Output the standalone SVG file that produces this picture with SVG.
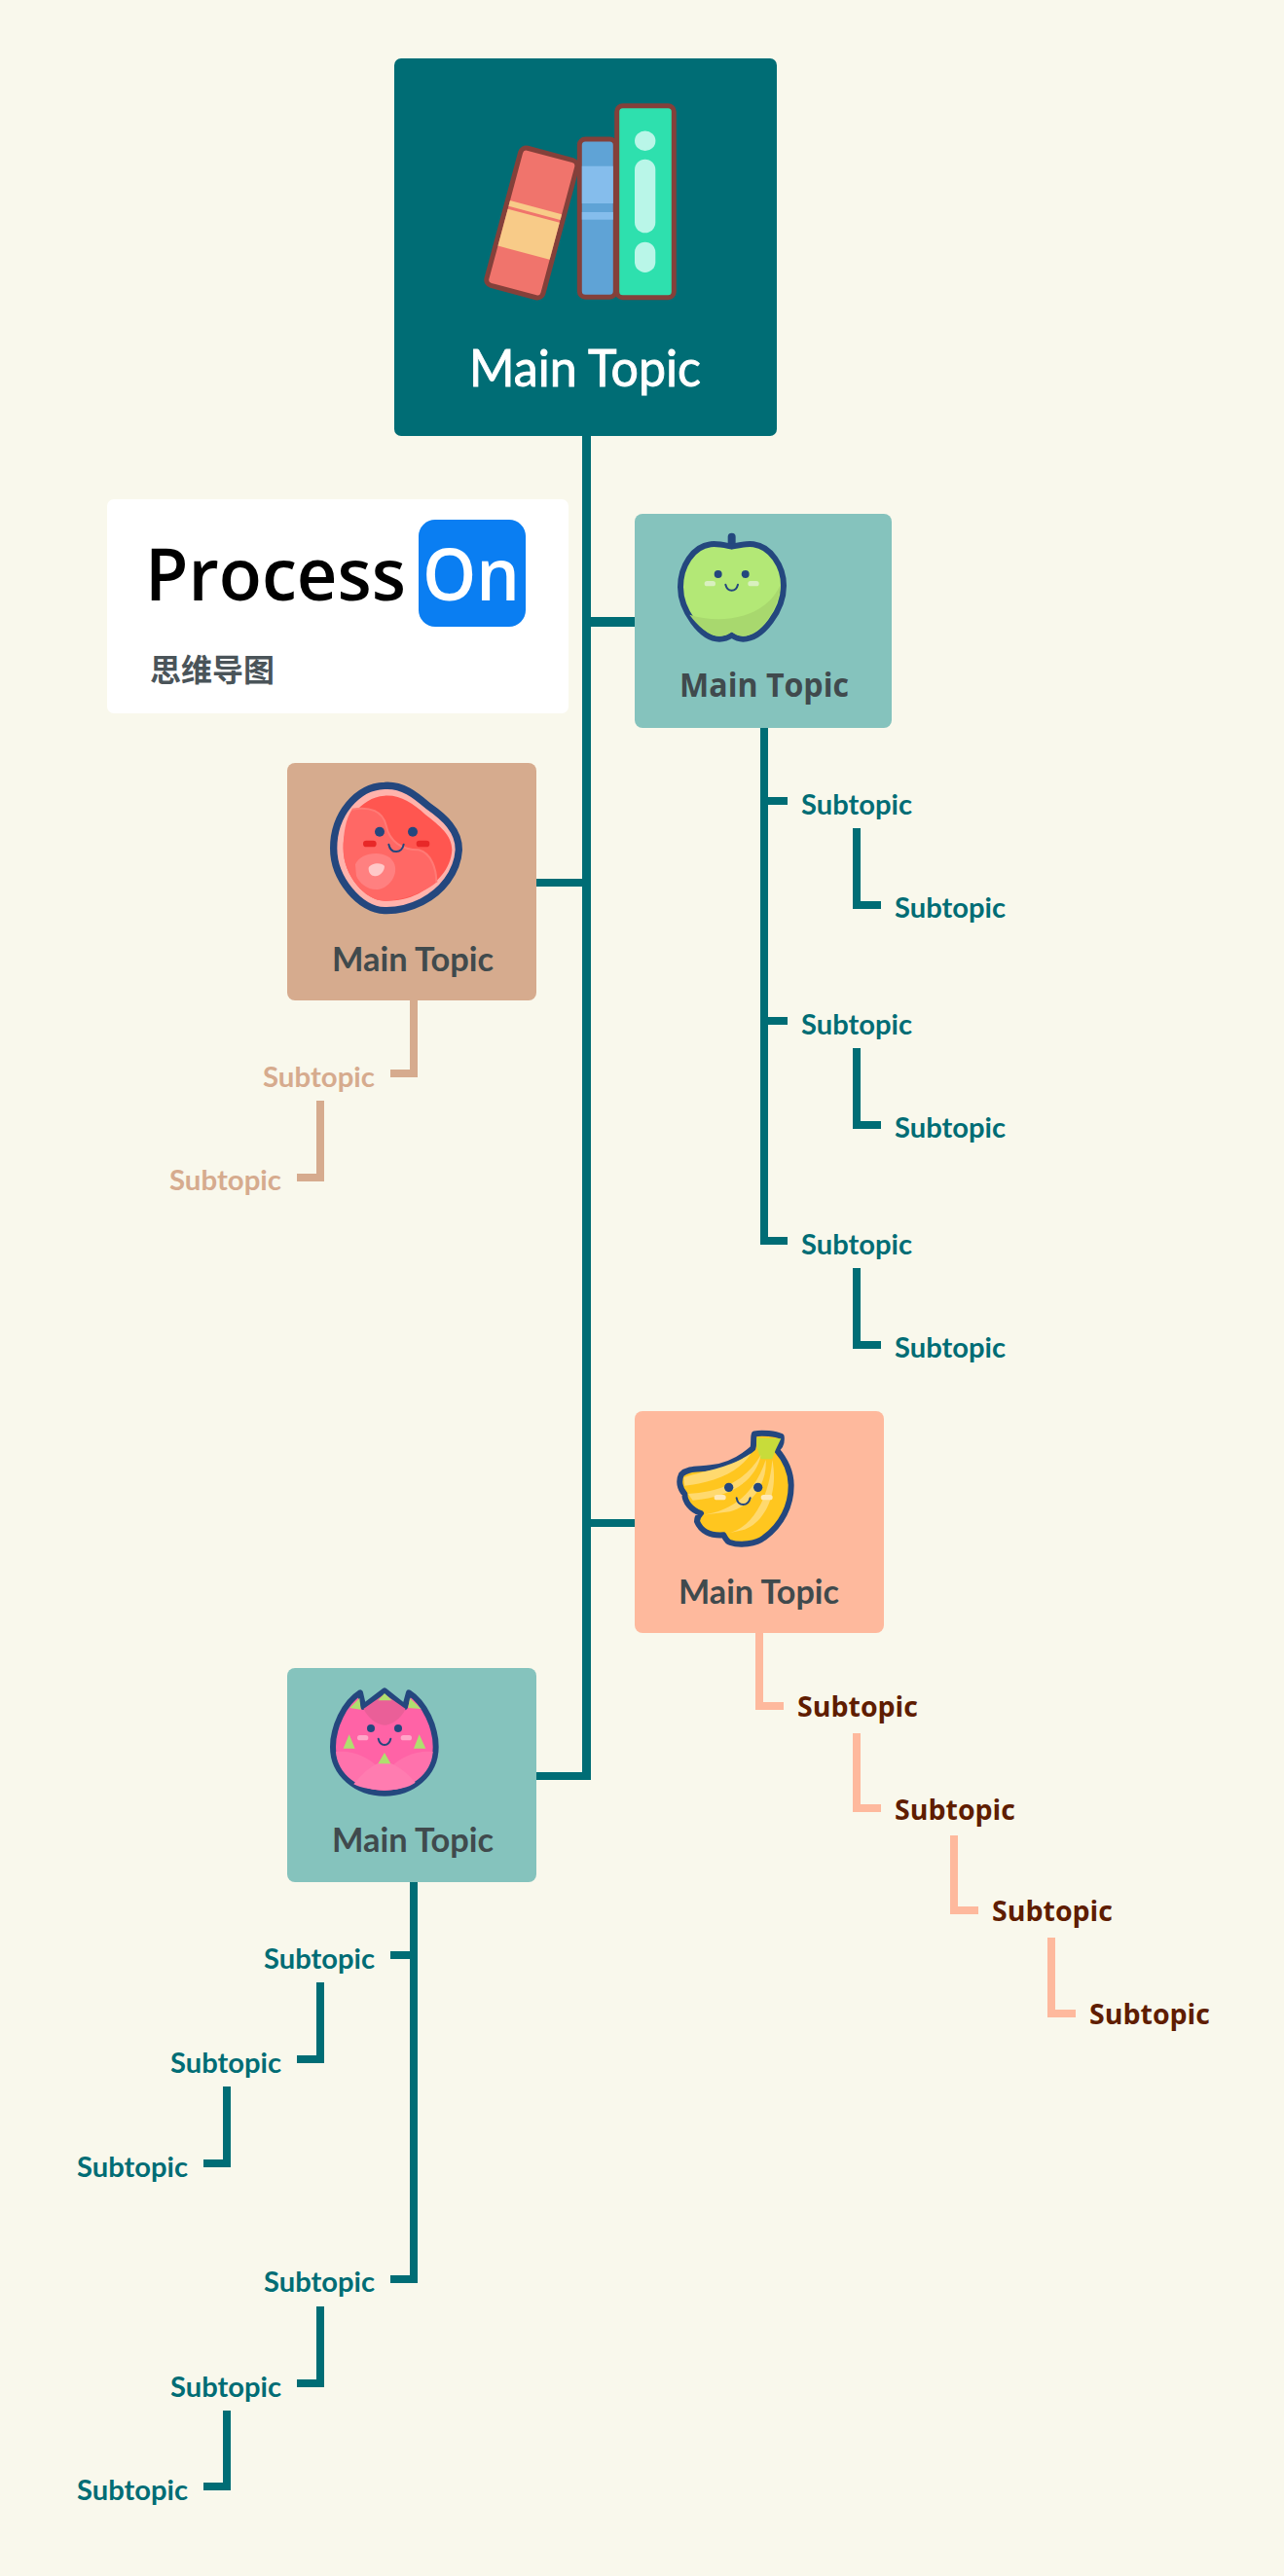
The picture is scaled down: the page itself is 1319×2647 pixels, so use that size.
<svg xmlns="http://www.w3.org/2000/svg" width="1319" height="2647" viewBox="0 0 1319 2647">
<style>
.c{fill:none;stroke-linejoin:miter}
.t{stroke:#006d75;stroke-width:8}
.n{stroke:#d6ab8e;stroke-width:8}
.p{stroke:#feb99d;stroke-width:8}
.cm{font-family:"Lato","Liberation Sans",sans-serif;font-weight:700}
.se{font-family:"Open Sans","Noto Sans",sans-serif;font-weight:700}
.lg{font-family:"Open Sans","Noto Sans",sans-serif;font-weight:600;font-size:74px}
.mt{font-size:34px;fill:#404a4d}
.st{font-size:29px;fill:#006d75}
.sn{font-size:29px;fill:#d6ab8e}
.sb{font-size:28px;fill:#5f1d00}
.nv{fill:#24477e}
.sm{fill:none;stroke:#24477e;stroke-width:6;stroke-linecap:round}
.ol{stroke:#24477e;stroke-linejoin:round}
.bk{stroke:#84403a;stroke-width:5}
</style>
<rect width="1319" height="2647" fill="#f9f8ec"/>
<g id="connectors">
<path class="c t" style="stroke-width:9" d="M602.5 448V1829"/>
<path class="c t" style="stroke-width:10" d="M607 639H652"/>
<path class="c t" d="M598 907H551"/>
<path class="c t" d="M652 1565H607"/>
<path class="c t" d="M598 1825H551"/>
<path class="c t" d="M785 748V1275H809"/>
<path class="c t" d="M789 823H809"/>
<path class="c t" d="M789 1049H809"/>
<path class="c t" d="M880 851V930H905"/>
<path class="c t" d="M880 1077V1156H905"/>
<path class="c t" d="M880 1303V1382H905"/>
<path class="c n" d="M425 1028V1103H401"/>
<path class="c n" d="M329 1131V1210H305"/>
<path class="c p" d="M780 1678V1753H805"/>
<path class="c p" d="M880 1781V1858H905"/>
<path class="c p" d="M980 1886V1963H1005"/>
<path class="c p" d="M1080 1991V2069H1105"/>
<path class="c t" d="M425 1932V2342H401"/>
<path class="c t" d="M421 2009H401"/>
<path class="c t" d="M329 2037V2116H305"/>
<path class="c t" d="M233 2144V2223H209"/>
<path class="c t" d="M329 2370V2449H305"/>
<path class="c t" d="M233 2477V2555H209"/>
</g>
<g id="root">
<rect x="405" y="60" width="393" height="388" rx="7" fill="#006d75"/>
<g transform="translate(546.3 229) rotate(15)">
<rect x="-30" y="-73" width="60" height="146" rx="6" fill="#f0746c" class="bk"/>
<rect x="-27.500" y="-7.500" width="55" height="39.300" fill="#f8cb88"/>
<rect x="-27.500" y="-16.400" width="55" height="5.900" fill="#f8cb88"/>
</g>
<rect x="595.300" y="143" width="37" height="162.300" rx="6" fill="#5fa3d6" class="bk"/>
<rect x="597.800" y="170.700" width="32" height="38.300" fill="#85bdec"/>
<rect x="597.800" y="218" width="32" height="7.700" fill="#85bdec"/>
<rect x="633.700" y="108.700" width="58.600" height="197" rx="6" fill="#2ee0ae" class="bk"/>
<ellipse cx="662.700" cy="144.700" rx="10.700" ry="10.300" fill="#b9f6e8"/>
<rect x="652" y="163.700" width="21.300" height="75.600" rx="10.700" fill="#b9f6e8"/>
<rect x="652" y="248.700" width="21.300" height="31.300" rx="10.700" fill="#b9f6e8"/>
<text x="482" y="397" font-family="Lato,'Liberation Sans',sans-serif" font-weight="400" font-size="52" fill="#fff" stroke="#fff" stroke-width=".9" textLength="238" lengthAdjust="spacingAndGlyphs">Main Topic</text>
</g>
<g id="logo">
<rect x="110" y="513" width="474" height="220" rx="7" fill="#fff"/>
<rect x="430" y="534" width="110" height="110" rx="17" fill="#0a7ef2"/>
<text class="lg" x="149" y="617" fill="#000" textLength="268" lengthAdjust="spacingAndGlyphs">Process</text>
<text class="lg" x="434" y="617" fill="#fff" textLength="100" lengthAdjust="spacingAndGlyphs">On</text>
<text x="154" y="700" font-size="32" font-weight="700" fill="#4a5459" font-family="'Noto Sans CJK SC',sans-serif">思维导图</text>
</g>
<g id="apple">
<rect x="652" y="528" width="264" height="220" rx="8" fill="#85c3bd"/>
<g transform="translate(640 510) scale(.33333)">
<path d="M335 125V160" stroke="#24477e" stroke-width="24" stroke-linecap="round"/>
<path class="ol" stroke-width="18" fill="#b3e876" d="M335 155C360 150 380 145 402 148C455 155 495 215 495 275C495 350 430 440 370 440C355 440 345 435 335 428C325 435 315 440 297 440C240 440 177 350 177 280C177 215 215 155 270 148C290 145 310 150 335 155Z"/>
<path fill="#a8d86e" d="M205 365C300 395 440 380 486 270C484 340 425 431 370 431C355 431 345 426 335 418C325 426 315 431 297 431C265 431 230 400 205 365Z"/>
<circle class="nv" cx="293" cy="240" r="12"/><circle class="nv" cx="377" cy="240" r="12"/>
<rect x="251" y="261" width="34" height="16" rx="8" fill="#d9f0bf"/><rect x="385" y="261" width="34" height="16" rx="8" fill="#d9f0bf"/>
<path class="sm" d="M316 272C322 296 348 296 354 272"/>
</g>
<text class="se mt" x="698" y="716" textLength="174" lengthAdjust="spacingAndGlyphs">Main Topic</text>
</g>
<g id="meat">
<rect x="295" y="784" width="256" height="244" rx="8" fill="#d6ab8e"/>
<g transform="translate(280 770) scale(.33333)">
<path class="ol" stroke-width="22" fill="#ffb3ac" d="M345 112C400 108 440 140 480 175C530 210 575 250 574 310C570 380 520 440 460 470C420 490 380 498 345 497C270 495 188 400 188 305C188 200 260 115 345 112Z"/>
<path fill="#ff5650" d="M345 143C395 140 430 165 470 200C515 235 553 265 553 310C550 370 505 415 450 445C415 462 380 468 345 467C285 465 218 390 218 305C218 225 270 148 345 143Z"/>
<path fill="#ff6865" d="M245 185C300 175 340 190 350 235C360 285 400 310 450 310C490 320 505 370 505 410C480 430 420 465 345 467C285 465 218 390 218 305C218 260 225 215 245 185Z"/>
<path fill="none" stroke="#ff7a75" stroke-width="6" d="M245 185C300 175 340 190 350 235C360 285 400 310 450 310C490 320 505 370 505 410"/>
<path fill="#ff8080" d="M255 355C265 325 320 310 355 330C390 350 385 400 345 425C310 445 270 420 258 390Z"/>
<path fill="#ffc8c8" d="M296 365C300 352 335 345 345 360C345 380 325 395 312 390C300 388 295 375 296 365Z"/>
<circle class="nv" cx="330" cy="254" r="15"/><circle class="nv" cx="432" cy="254" r="15"/>
<rect x="279" y="281" width="41" height="20" rx="10" fill="#e82828"/><rect x="443" y="281" width="41" height="20" rx="10" fill="#e82828"/>
<path class="sm" d="M358 293C365 325 400 320 404 293"/>
</g>
<text class="cm mt" x="341" y="998" textLength="166" lengthAdjust="spacingAndGlyphs">Main Topic</text>
</g>
<g id="banana">
<rect x="652" y="1450" width="256" height="228" rx="8" fill="#feb99d"/>
<g transform="translate(640 1440) scale(.33333)">
<path class="ol" stroke-width="18" fill="#ffc61f" d="M405 100C430 95 470 100 488 108C490 125 485 140 472 148C500 180 518 220 518 260C518 320 490 380 435 420C410 440 360 445 330 435C320 432 315 420 310 412C270 415 240 400 228 370C228 355 235 350 240 345C210 335 190 310 190 285C175 270 170 245 180 225C200 205 230 210 270 205C320 200 360 180 400 145C405 130 400 110 405 100Z"/>
<path fill="#c8dc3a" d="M412 112L487 115L470 150L460 178L425 178L412 140Z"/>
<path fill="#ffd96e" d="M187 235C240 215 320 210 395 160C360 215 290 250 190 260Z"/>
<path fill="#ffd96e" d="M200 285C280 280 370 260 425 165C410 240 340 295 215 305Z"/>
<path fill="#ffd96e" d="M245 350C320 340 400 300 440 180C445 250 400 320 330 340Z"/>
<path fill="#ffd96e" d="M330 405C390 390 450 310 460 180C480 280 440 370 375 395Z"/>
<circle class="nv" cx="326" cy="265" r="14"/><circle class="nv" cx="416" cy="265" r="14"/>
<rect x="281" y="288" width="36" height="16" rx="8" fill="#ffe9b8"/><rect x="425" y="288" width="36" height="16" rx="8" fill="#ffe9b8"/>
<path class="sm" d="M350 298C355 325 385 325 392 298"/>
</g>
<text class="cm mt" x="697" y="1648" textLength="165" lengthAdjust="spacingAndGlyphs">Main Topic</text>
</g>
<g id="dragonfruit">
<rect x="295" y="1714" width="256" height="220" rx="8" fill="#85c3bd"/>
<g transform="translate(280 1700) scale(.33333)">
<path class="ol" stroke-width="18" fill="#ff63a6" d="M345 112L408 162L420 118C470 150 503 225 503 285C503 370 430 428 345 428C260 428 186 370 186 285C186 225 220 150 270 118L280 162Z"/>
<path fill="#ea5f98" d="M280 168L345 122L410 168C395 200 365 218 345 218C320 218 295 195 280 168Z"/>
<path fill="#ff72ac" d="M195 300C240 295 300 310 345 370C390 310 450 295 494 300C490 370 425 419 345 419C265 419 200 370 195 300Z"/>
<path fill="#ff7cb0" d="M250 400C290 350 320 335 345 330C375 335 410 360 440 395C400 425 300 425 250 400Z"/>
<path fill="#afe06e" d="M345 120L325 142L368 142ZM268 135L238 165L272 170ZM423 135L418 165L458 168ZM236 247L218 290L254 290ZM452 247L435 290L472 290ZM345 303L325 337L364 337Z"/>
<circle class="nv" cx="303" cy="228" r="12"/><circle class="nv" cx="387" cy="228" r="12"/>
<rect x="261" y="249" width="34" height="16" rx="8" fill="#ffa6c8"/><rect x="395" y="249" width="34" height="16" rx="8" fill="#ffa6c8"/>
<path class="sm" d="M326 260C332 285 358 285 364 260"/>
</g>
<text class="cm mt" x="341" y="1903" textLength="166" lengthAdjust="spacingAndGlyphs">Main Topic</text>
</g>
<g id="apple-subtopics">
<text class="cm st" x="823" y="837" textLength="114" lengthAdjust="spacingAndGlyphs">Subtopic</text>
<text class="cm st" x="919" y="943" textLength="114" lengthAdjust="spacingAndGlyphs">Subtopic</text>
<text class="cm st" x="823" y="1063" textLength="114" lengthAdjust="spacingAndGlyphs">Subtopic</text>
<text class="cm st" x="919" y="1169" textLength="114" lengthAdjust="spacingAndGlyphs">Subtopic</text>
<text class="cm st" x="823" y="1289" textLength="114" lengthAdjust="spacingAndGlyphs">Subtopic</text>
<text class="cm st" x="919" y="1395" textLength="114" lengthAdjust="spacingAndGlyphs">Subtopic</text>
</g>
<g id="meat-subtopics">
<text class="cm sn" x="270" y="1117" textLength="115" lengthAdjust="spacingAndGlyphs">Subtopic</text>
<text class="cm sn" x="174" y="1223" textLength="115" lengthAdjust="spacingAndGlyphs">Subtopic</text>
</g>
<g id="banana-subtopics">
<text class="se sb" x="819" y="1764" textLength="124" lengthAdjust="spacingAndGlyphs">Subtopic</text>
<text class="se sb" x="919" y="1870" textLength="124" lengthAdjust="spacingAndGlyphs">Subtopic</text>
<text class="se sb" x="1019" y="1974" textLength="124" lengthAdjust="spacingAndGlyphs">Subtopic</text>
<text class="se sb" x="1119" y="2080" textLength="124" lengthAdjust="spacingAndGlyphs">Subtopic</text>
</g>
<g id="dragonfruit-subtopics">
<text class="cm st" x="271" y="2023" textLength="114" lengthAdjust="spacingAndGlyphs">Subtopic</text>
<text class="cm st" x="175" y="2130" textLength="114" lengthAdjust="spacingAndGlyphs">Subtopic</text>
<text class="cm st" x="79" y="2237" textLength="114" lengthAdjust="spacingAndGlyphs">Subtopic</text>
<text class="cm st" x="271" y="2355" textLength="114" lengthAdjust="spacingAndGlyphs">Subtopic</text>
<text class="cm st" x="175" y="2463" textLength="114" lengthAdjust="spacingAndGlyphs">Subtopic</text>
<text class="cm st" x="79" y="2569" textLength="114" lengthAdjust="spacingAndGlyphs">Subtopic</text>
</g>
</svg>
